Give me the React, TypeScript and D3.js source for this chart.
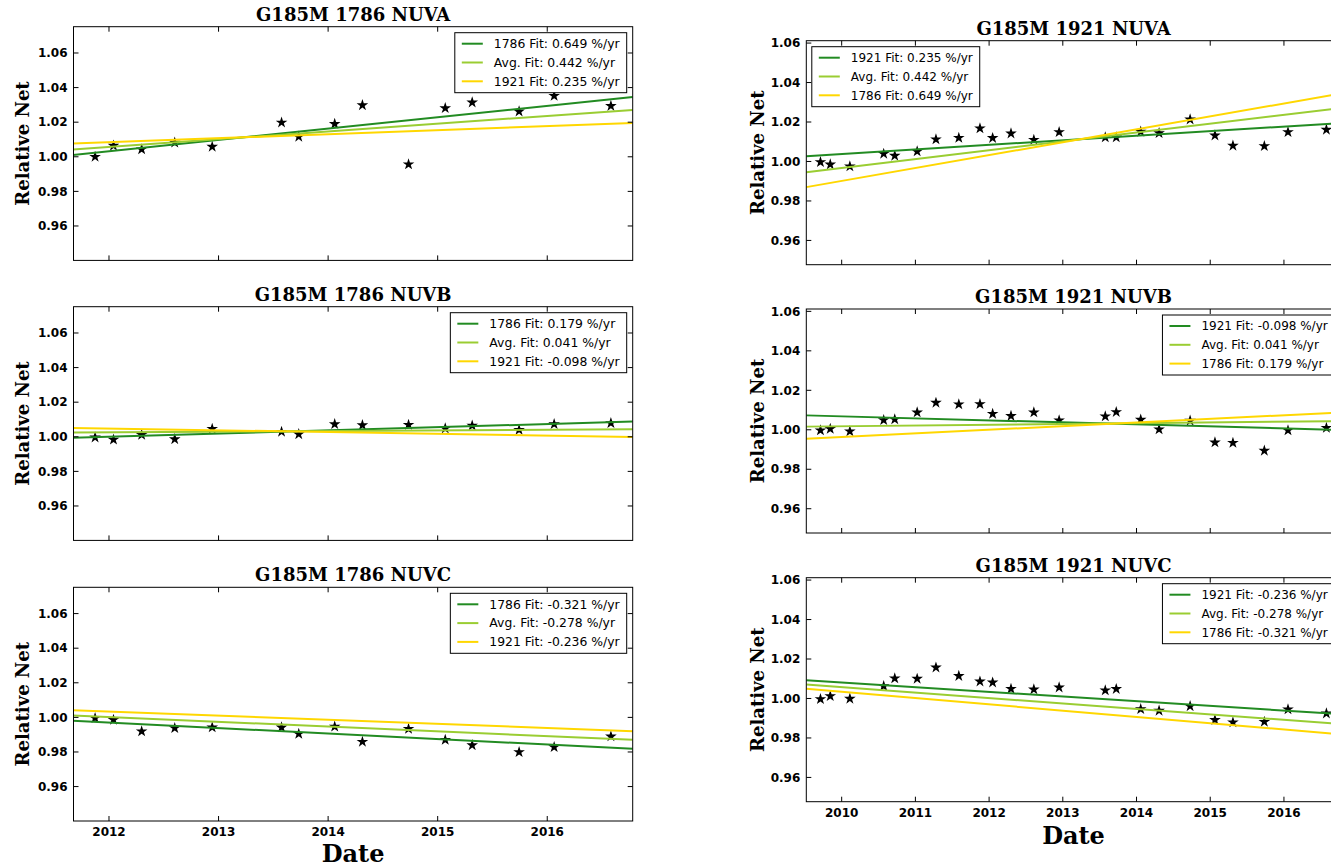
import React from "react";
import * as d3 from "d3";

// observation dates (decimal year)
const dates1786 = [2011.873, 2012.041, 2012.298, 2012.6, 2012.942, 2013.575, 2013.732, 2014.06, 2014.313, 2014.734, 2015.069, 2015.315, 2015.743, 2016.063, 2016.581];
const dates1921 = [2009.712, 2009.845, 2010.111, 2010.57, 2010.72, 2011.024, 2011.279, 2011.589, 2011.876, 2012.048, 2012.297, 2012.607, 2012.95, 2013.576, 2013.725, 2014.057, 2014.306, 2014.727, 2015.064, 2015.308, 2015.734, 2016.055, 2016.576];

// relative net counts
const net1786NUVA = [1.0, 1.0064, 1.0043, 1.0082, 1.0058, 1.0198, 1.0116, 1.019, 1.0298, 0.9956, 1.0281, 1.0314, 1.0262, 1.0352, 1.0294];
const net1786NUVB = [0.9996, 0.9984, 1.0011, 0.9986, 1.0046, 1.0029, 1.0015, 1.0073, 1.0067, 1.0069, 1.0048, 1.0065, 1.004, 1.0073, 1.0079];
const net1786NUVC = [0.9996, 0.9986, 0.9919, 0.9938, 0.9942, 0.9942, 0.9905, 0.9947, 0.9859, 0.9934, 0.987, 0.9839, 0.9799, 0.9828, 0.989];
const net1921NUVA = [0.9997, 0.9985, 0.9975, 1.0039, 1.0029, 1.0051, 1.0112, 1.012, 1.0168, 1.0119, 1.0142, 1.011, 1.0149, 1.0122, 1.0122, 1.0151, 1.0144, 1.0213, 1.0132, 1.008, 1.0078, 1.0149, 1.0161];
const net1921NUVB = [0.9997, 1.0005, 0.9992, 1.0049, 1.0053, 1.0088, 1.0137, 1.0129, 1.013, 1.0081, 1.007, 1.0088, 1.0048, 1.0068, 1.009, 1.0051, 1.0002, 1.0046, 0.9936, 0.9934, 0.9894, 0.9997, 1.001];
const net1921NUVC = [0.9997, 1.0012, 0.9999, 1.0063, 1.0102, 1.01, 1.0157, 1.0114, 1.0086, 1.0081, 1.0049, 1.0046, 1.0056, 1.0041, 1.0048, 0.9946, 0.9938, 0.9961, 0.9891, 0.9879, 0.9882, 0.9945, 0.9924];

// fit lines: value at the two ends of fitDates
const fitDates = [2009.52, 2016.78];
const fit1786NUVA = [0.987, 1.0345];
const fit1921NUVA = [1.0027, 1.0195];
const fitAvgNUVA = [0.9946, 1.0271];
const fit1786NUVB = [0.9955, 1.0088];
const fit1921NUVB = [1.0073, 0.9999];
const fitAvgNUVB = [1.0016, 1.0044];
const fit1786NUVC = [1.0049, 0.9818];
const fit1921NUVC = [1.0093, 0.992];
const fitAvgNUVC = [1.0071, 0.987];

const segments = ["NUVA", "NUVB", "NUVC"];
const slopes1786 = [0.649, 0.179, -0.321];
const slopes1921 = [0.235, -0.098, -0.236];
const slopesAvg = [0.442, 0.041, -0.278];

const yTicks = [0.96, 0.98, 1.0, 1.02, 1.04, 1.06];
const yearsLeft = [2012, 2013, 2014, 2015, 2016];
const yearsRight = [2010, 2011, 2012, 2013, 2014, 2015, 2016];

const OWN = "#228B22";
const AVG = "#9ACD32";
const OTHER = "#FFD700";

const SANS = "'DejaVu Sans', sans-serif";
const SERIF = "'DejaVu Serif', serif";

const measure = (() => {
  const ctx = document.createElement("canvas").getContext("2d");
  return (s: string, font: string) => {
    if (!ctx) return s.length * 6.5;
    ctx.font = font;
    return ctx.measureText(s).width;
  };
})();

const cols = [
  {
    det: "1786", other: "1921", x0: 73.5, x1: 632.7, tops: [26.7, 306.7, 587.3], h: 233.7,
    xDomain: [2011.676, 2016.78], yDomain: [0.9401, 1.0752], years: yearsLeft,
    legendLeft: [false, false, false], labelX: 28.5, legSize: 12.4, dateY: 41,
    dates: dates1786, nets: [net1786NUVA, net1786NUVB, net1786NUVC],
    own: [fit1786NUVA, fit1786NUVB, fit1786NUVC], oth: [fit1921NUVA, fit1921NUVB, fit1921NUVC],
    ownSlopes: slopes1786, othSlopes: slopes1921,
  },
  {
    det: "1921", other: "1786", x0: 806.3, x1: 1340.7, tops: [40.7, 309, 577.7], h: 224,
    xDomain: [2009.52, 2016.77], yDomain: [0.9477, 1.0612], years: yearsRight,
    legendLeft: [true, false, false], labelX: 763.5, legSize: 12, dateY: 42,
    dates: dates1921, nets: [net1921NUVA, net1921NUVB, net1921NUVC],
    own: [fit1921NUVA, fit1921NUVB, fit1921NUVC], oth: [fit1786NUVA, fit1786NUVB, fit1786NUVC],
    ownSlopes: slopes1921, othSlopes: slopes1786,
  },
];
const avgFits = [fitAvgNUVA, fitAvgNUVB, fitAvgNUVC];

const star = d3.symbol(d3.symbolStar, 42)() as string;

function Panel({ col, row, ci }: any) {
  const top = col.tops[row];
  const bottom = top + col.h;
  const x = d3.scaleLinear().domain(col.xDomain).range([col.x0, col.x1]);
  const y = d3.scaleLinear().domain(col.yDomain).range([bottom, top]);
  const line = d3.line<[number, number]>().x(d => x(d[0])).y(d => y(d[1]));
  const clipId = `clip-${ci}-${row}`;
  const fits = [
    { vals: col.own[row], color: OWN, label: `${col.det} Fit: ${col.ownSlopes[row].toFixed(3)} %/yr` },
    { vals: avgFits[row], color: AVG, label: `Avg. Fit: ${slopesAvg[row].toFixed(3)} %/yr` },
    { vals: col.oth[row], color: OTHER, label: `${col.other} Fit: ${col.othSlopes[row].toFixed(3)} %/yr` },
  ];
  const legFont = `${col.legSize}px ${SANS}`;
  const maxW = d3.max(fits, f => measure(f.label, legFont)) as number;
  const legW = 39 + maxW + 7;
  const legH = 60;
  const legX = col.legendLeft[row] ? col.x0 + 5.5 : col.x1 - 6 - legW;
  const legY = top + 6;
  const tl = 5;
  return (
    <g>
      <defs>
        <clipPath id={clipId}>
          <rect x={col.x0} y={top} width={col.x1 - col.x0} height={col.h} />
        </clipPath>
      </defs>
      <text x={(col.x0 + col.x1) / 2} y={top - 6} textAnchor="middle" fontFamily={SERIF} fontWeight="bold" fontSize={18}>
        {`G185M ${col.det} ${segments[row]}`}
      </text>
      <g clipPath={`url(#${clipId})`}>
        {col.dates.map((d: number, i: number) => (
          <path key={i} d={star} transform={`translate(${x(d)},${y(col.nets[row][i])})`} fill="#000" />
        ))}
        {fits.map((f, i) => (
          <path key={i} d={line([[fitDates[0], f.vals[0]], [fitDates[1], f.vals[1]]]) as string} stroke={f.color} strokeWidth={2} fill="none" />
        ))}
      </g>
      {/* ticks, inward on all sides */}
      <g stroke="#000" strokeWidth={1}>
        {yTicks.map(t => (
          <g key={t}>
            <line x1={col.x0} x2={col.x0 + tl} y1={y(t)} y2={y(t)} />
            <line x1={col.x1} x2={col.x1 - tl} y1={y(t)} y2={y(t)} />
          </g>
        ))}
        {col.years.map((t: number) => (
          <g key={t}>
            <line x1={x(t)} x2={x(t)} y1={bottom} y2={bottom - tl} />
            <line x1={x(t)} x2={x(t)} y1={top} y2={top + tl} />
          </g>
        ))}
      </g>
      <rect x={col.x0} y={top} width={col.x1 - col.x0} height={col.h} fill="none" stroke="#000" strokeWidth={1} />
      {yTicks.map(t => (
        <text key={t} x={col.x0 - 6} y={y(t)} dy="0.35em" textAnchor="end" fontFamily={SANS} fontWeight="bold" fontSize={12}>
          {d3.format(".2f")(t)}
        </text>
      ))}
      {row === 2 && col.years.map((t: number) => (
        <text key={t} x={x(t)} y={bottom + 11} dy="0.35em" textAnchor="middle" fontFamily={SANS} fontWeight="bold" fontSize={12}>
          {t}
        </text>
      ))}
      {row === 2 && (
        <text x={(col.x0 + col.x1) / 2} y={bottom + col.dateY} textAnchor="middle" fontFamily={SERIF} fontWeight="bold" fontSize={24}>
          Date
        </text>
      )}
      <text transform={`translate(${col.labelX},${(top + bottom) / 2}) rotate(-90)`} textAnchor="middle" fontFamily={SERIF} fontWeight="bold" fontSize={18}>
        Relative Net
      </text>
      <g>
        <rect x={legX} y={legY} width={legW} height={legH} fill="#fff" stroke="#000" strokeWidth={1} />
        {fits.map((f, i) => (
          <g key={i}>
            <line x1={legX + 7} x2={legX + 28} y1={legY + 11 + i * 18.8} y2={legY + 11 + i * 18.8} stroke={f.color} strokeWidth={2} />
            <text x={legX + 39} y={legY + 11 + i * 18.8} dy="0.35em" fontFamily={SANS} fontSize={col.legSize}>
              {f.label}
            </text>
          </g>
        ))}
      </g>
    </g>
  );
}

export default function App() {
  return (
    <svg width={1331} height={868} style={{ position: "absolute", left: 0, top: 0, background: "#fff" }}>
      {cols.map((col, ci) => [0, 1, 2].map(row => <Panel key={`${ci}-${row}`} col={col} row={row} ci={ci} />))}
    </svg>
  );
}
